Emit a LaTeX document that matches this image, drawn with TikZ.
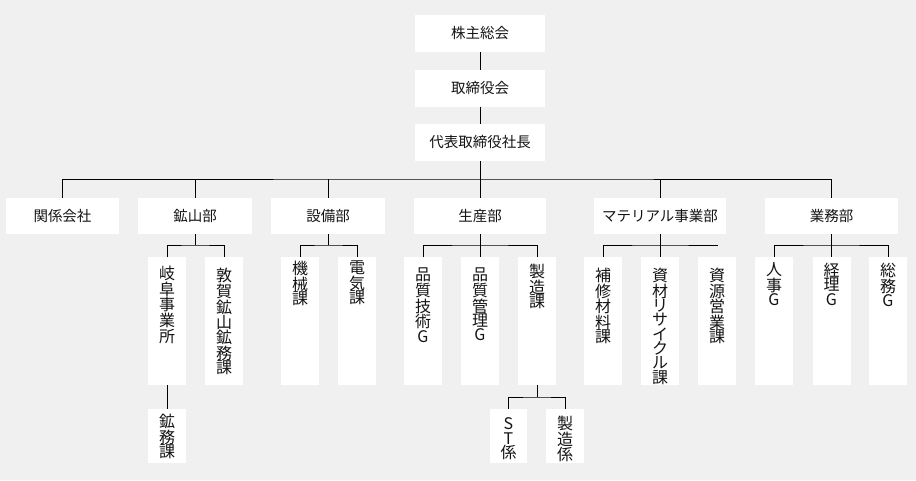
\documentclass[tikz,border=0pt]{standalone}
\usepackage{fontspec}
\newfontfamily\jp{Noto Sans CJK JP}
\definecolor{bgc}{RGB}{240,240,240}
\definecolor{txt}{RGB}{20,20,20}
\begin{document}
\begin{tikzpicture}[x=1pt,y=-1pt,
  every node/.style={inner sep=0pt, outer sep=0pt},
  hb/.style={fill=white, minimum height=37pt, text=txt, font=\jp\fontsize{14.5}{17}\selectfont},
  vb/.style={fill=white, minimum width=38pt},
  vt/.style={anchor=north, align=center, text=txt, font=\jp\fontsize{16}{14.3}\selectfont},
  ln/.style={line width=1pt, black}]
\fill[bgc] (0,0) rectangle (916,480);
\useasboundingbox (0,0) rectangle (916,480);
% top
\node[hb, minimum width=130pt] (s1) at (480,33.5) {株主総会};
\node[hb, minimum width=130pt] (s2) at (480,88) {取締役会};
\node[hb, minimum width=130pt] (s3) at (480,142.5) {代表取締役社長};
% level 2
\node[hb, minimum height=36pt, minimum width=113pt] (kankei) at (62.5,216) {関係会社};
\node[hb, minimum height=36pt, minimum width=114pt] (kozan) at (195,216) {鉱山部};
\node[hb, minimum height=36pt, minimum width=114pt] (setsubi) at (328,216) {設備部};
\node[hb, minimum height=36pt, minimum width=132pt] (seisan) at (480,216) {生産部};
\node[hb, minimum height=36pt, minimum width=132pt] (material) at (660,216) {マテリアル事業部};
\node[hb, minimum height=36pt, minimum width=133pt] (gyomu) at (831.5,216) {業務部};
% level 3 boxes
\node[vb, minimum height=128pt] (gifu) at (167,321) {};
\node[vb, minimum height=128pt] (tsuruga) at (224,321) {};
\node[vb, minimum height=128pt] (kikai) at (300,321) {};
\node[vb, minimum height=128pt] (denki) at (357,321) {};
\node[vb, minimum height=128pt] (hingi) at (423,321) {};
\node[vb, minimum height=128pt] (hinkan) at (480,321) {};
\node[vb, minimum height=128pt] (seizo) at (537,321) {};
\node[vb, minimum height=128pt] (hoshu) at (603,321) {};
\node[vb, minimum height=128pt] (recycle) at (660,321) {};
\node[vb, minimum height=128pt] (shigen) at (717,321) {};
\node[vb, minimum height=128pt] (jinji) at (774,321) {};
\node[vb, minimum height=128pt] (keiri) at (831.5,321) {};
\node[vb, minimum height=128pt] (somu) at (888,321) {};
% level 3 texts
\node[vt] (gifu-t) at ([yshift=-9pt]gifu.north) {岐\\阜\\事\\業\\所};
\node[vt] (tsuruga-t) at ([yshift=-11pt]tsuruga.north) {敦\\賀\\鉱\\山\\鉱\\務\\課};
\node[vt] (kikai-t) at ([yshift=-4pt]kikai.north) {機\\械\\課};
\node[vt] (denki-t) at ([yshift=-4pt]denki.north) {電\\気\\課};
\node[vt] (hingi-t) at ([yshift=-11pt]hingi.north) {品\\質\\技\\術\\G};
\node[vt] (hinkan-t) at ([yshift=-11pt]hinkan.north) {品\\質\\管\\理\\G};
\node[vt] (seizo-t) at ([yshift=-7pt]seizo.north) {製\\造\\課};
\node[vt] (hoshu-t) at ([yshift=-11pt]hoshu.north) {補\\修\\材\\料\\課};
\node[vt] (recycle-t) at ([yshift=-11pt]recycle.north) {資\\材\\リ\\サ\\イ\\ク\\ル\\課};
\node[vt] (shigen-t) at ([yshift=-11pt]shigen.north) {資\\源\\営\\業\\課};
\node[vt] (jinji-t) at ([yshift=-6pt]jinji.north) {人\\事\\G};
\node[vt] (keiri-t) at ([yshift=-6pt]keiri.north) {経\\理\\G};
\node[vt] (somu-t) at ([yshift=-6pt]somu.north) {総\\務\\G};
% level 4
\node[vb, minimum height=54pt] (komu) at (167,436) {};
\node[vb, minimum height=54pt, minimum width=37pt] (st) at (508.5,436) {};
\node[vb, minimum height=54pt] (kakari) at (565,436) {};
\node[vt] (komu-t) at ([yshift=-5pt]komu.north) {鉱\\務\\課};
\node[vt] (st-t) at ([yshift=-9pt]st.north) {S\\T\\係};
\node[vt] (kakari-t) at ([yshift=-7pt]kakari.north) {製\\造\\係};
% connectors
\draw[ln] (s1) -- (s2);
\draw[ln] (s2) -- (s3);
\coordinate (b1) at (480,179);
\draw[ln] (s3) -- (b1);
\draw[ln] (kankei.north) |- (b1) -| (gyomu.north);
\foreach \n in {kozan,setsubi,seisan,material}
  \draw[ln] (\n.north) -- (\n.north |- b1);
% level 3 buses
\coordinate (bk) at (195,245);
\draw[ln] (kozan) -- (bk);
\draw[ln] (gifu.north) |- (bk) -| (tsuruga.north);
\coordinate (bs) at (328,245);
\draw[ln] (setsubi) -- (bs);
\draw[ln] (kikai.north) |- (bs) -| (denki.north);
\coordinate (bp) at (480,245);
\draw[ln] (seisan) -- (hinkan);
\draw[ln] (hingi.north) |- (bp) -| (seizo.north);
\coordinate (bm) at (660,245);
\coordinate (bmend) at (718,245);
\draw[ln] (material) -- (recycle);
\draw[ln] (hoshu.north) |- (bm) -- (bmend);
\coordinate (bg) at (831.5,245);
\draw[ln] (gyomu) -- (keiri);
\draw[ln] (jinji.north) |- (bg) -| (somu.north);
% level 4
\draw[ln] (gifu) -- (komu);
\coordinate (bz) at (537,397);
\draw[ln] (seizo) -- (bz);
\draw[ln] (st.north) |- (bz) -| (kakari.north);
\end{tikzpicture}
\end{document}
